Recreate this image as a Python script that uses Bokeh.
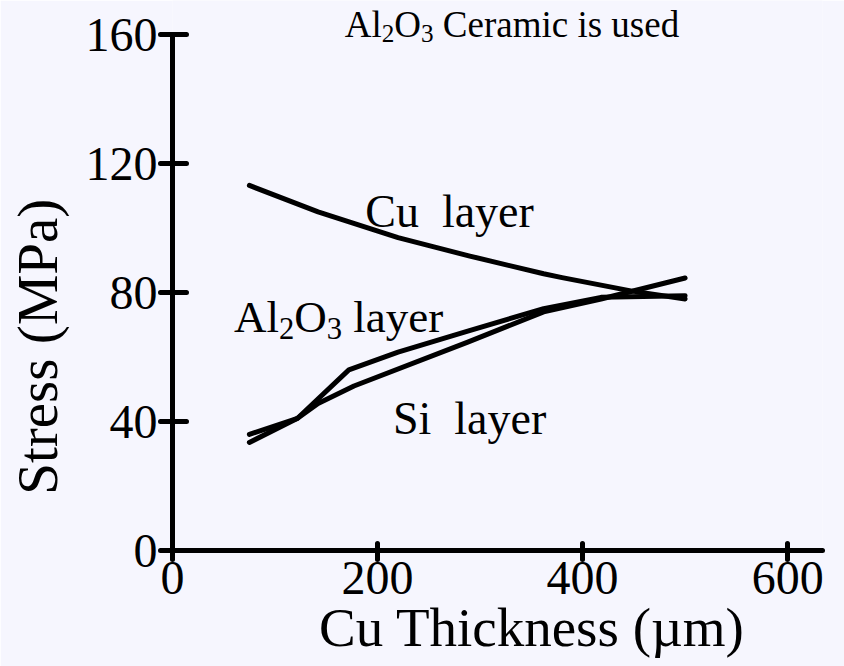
from bokeh.plotting import figure
from bokeh.models import Range1d, FixedTicker, Axis
from bokeh.core.properties import value
from bokeh.embed import file_html
from bokeh.resources import INLINE

# ---- data ----
cu_thickness = [75, 142, 220, 290, 362, 380, 447, 500]
cu_stress = [113.2, 105.0, 97.0, 91.3, 85.8, 84.6, 80.5, 78.0]

al2o3_thickness = [75, 122, 172, 220, 288, 362, 418, 500]
al2o3_stress = [33.5, 41.0, 56.0, 61.5, 68.0, 75.0, 78.5, 79.0]

si_thickness = [75, 122, 142, 177, 288, 362, 418, 500]
si_stress = [36.0, 41.0, 45.6, 51.0, 64.6, 74.0, 78.0, 84.5]

x_ticks = [0, 200, 400, 600]
y_ticks = [0, 40, 80, 120, 160]
y_max = 160

FONT = "Liberation Serif"
BG = "#F6F6FE"
NB = "\u00a0"

# Times-metric advance widths (em) used to lay out sub-scripted labels
W = {"A": .722, "l": .278, "O": .722, "2": .5, "3": .5, " ": .25, NB: .25, "a": .444,
     "y": .5, "e": .444, "r": .333, "C": .667, "m": .778, "i": .278,
     "c": .444, "s": .389, "u": .5, "d": .5, "S": .556}


def tw(s, size):
    return sum(W.get(ch, .5) for ch in s) * size


# frame: 550 px tall, value 160 sits 34 px below the top edge
y_top = y_max * 550 / 516

p = figure(width=844, height=666, x_range=Range1d(0, 634), y_range=Range1d(0, y_top),
           output_backend="svg", toolbar_location=None,
           min_border_left=172, min_border_right=22, min_border_top=0, min_border_bottom=116,
           background_fill_color=BG, border_fill_color=BG, outline_line_color=None)
p.grid.visible = False

p.xaxis.ticker = FixedTicker(ticks=x_ticks)
p.yaxis.ticker = FixedTicker(ticks=y_ticks)
p.yaxis.bounds = (0, y_max)
# non-breaking spaces only shift the centred labels along their axes, as in the reference
p.xaxis.axis_label = NB * 5 + "Cu Thickness (µm)"
p.yaxis.axis_label = "Stress (MPa)" + NB * 10

have_bg = "major_label_background_fill_color" in Axis.properties()
for ax in (p.xaxis[0], p.yaxis[0]):
    ax.axis_line_width = 5
    ax.axis_line_color = "black"
    ax.axis_line_cap = "round"
    ax.major_tick_line_width = 5
    ax.major_tick_line_color = "black"
    ax.major_tick_line_cap = "round"
    ax.minor_tick_line_color = None
    ax.major_label_text_font = FONT
    ax.major_label_text_font_size = "48px"
    ax.major_label_text_color = "black"
    ax.axis_label_text_font = FONT
    ax.axis_label_text_font_style = "normal"
    ax.axis_label_text_color = "black"
    if have_bg:
        ax.major_label_background_fill_color = "white"

p.xaxis.axis_label_text_font_size = "55px"
p.yaxis.axis_label_text_font_size = "57px"
p.xaxis.major_tick_in = 7
p.xaxis.major_tick_out = 9
p.yaxis.major_tick_in = 14
p.yaxis.major_tick_out = 12
p.xaxis.major_label_standoff = 2
p.xaxis.axis_label_standoff = 0
p.yaxis.major_label_standoff = 3
p.yaxis.axis_label_standoff = 14

for xs, ys in ((cu_thickness, cu_stress), (al2o3_thickness, al2o3_stress), (si_thickness, si_stress)):
    p.line(xs, ys, line_width=5, line_color="black", line_cap="round", line_join="round")


def glyph_label(x, y, parts, size):
    off = 0.0
    lift = -0.31 * size
    for s, sub in parts:
        fs = size * 0.68 if sub else size
        p.text(x=[x], y=[y], text=[s], x_offset=off, y_offset=lift + (size * 0.26 if sub else 0),
               text_font=value(FONT), text_font_size=f"{fs:.1f}px", text_color="black",
               text_baseline="alphabetic", text_align="left")
        off += tw(s, fs)


glyph_label(188, 100.8, [("Cu" + NB + NB + "layer", False)], 46)
glyph_label(60, 68.0, [("Al", False), ("2", True), ("O", False), ("3", True), (NB + "layer", False)], 45)
glyph_label(215, 36.6, [("Si" + NB + NB + "layer", False)], 46)
glyph_label(168, 159.6, [("Al", False), ("2", True), ("O", False), ("3", True),
                         (NB + "Ceramic" + NB + "is" + NB + "used", False)], 37)

open("out.html", "w").write(file_html(p, INLINE))
